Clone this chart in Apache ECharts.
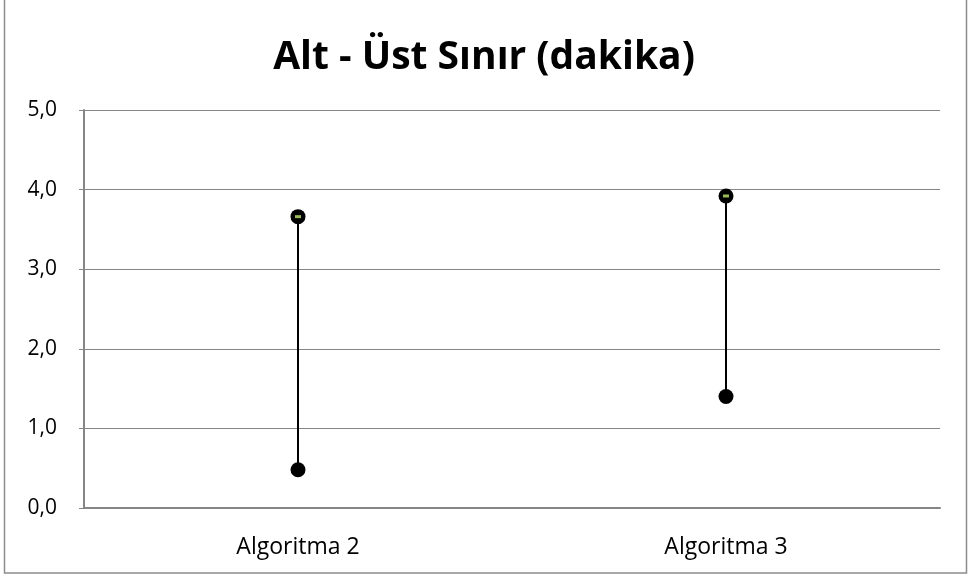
<!DOCTYPE html>
<html><head><meta charset="utf-8">
<script src="https://cdn.jsdelivr.net/npm/echarts@6/dist/echarts.min.js"></script>
<style>html,body{margin:0;padding:0;background:#fff}#c{width:968px;height:579px}</style>
</head><body><div id="c"></div>
<script>
const titleText = 'Alt - Üst Sınır (dakika)';
const categories = ['Algoritma 2', 'Algoritma 3'];
const highValues = [3.66, 3.92];
const lowValues = [0.48, 1.40];
const yTicks = [0, 1, 2, 3, 4, 5];

const chart = echarts.init(document.getElementById('c'), null, {renderer: 'canvas'});
const fontFam = '"Open Sans", "Noto Sans", sans-serif';
chart.setOption({
  animation: false,
  backgroundColor: '#fff',
  title: {
    text: titleText, left: 'center', top: 33,
    textStyle: {fontFamily: fontFam, fontWeight: 'bold', fontSize: 39, color: '#000'}
  },
  graphic: [{
    type: 'rect', shape: {x: 4.5, y: -2, width: 962, height: 575},
    style: {fill: 'none', stroke: '#8c8c8c', lineWidth: 1.5}, silent: true
  }],
  grid: {left: 84, right: 28, top: 110, bottom: 71, containLabel: false},
  xAxis: {
    type: 'category', data: categories, boundaryGap: true,
    axisLine: {lineStyle: {color: '#868686', width: 2}},
    axisTick: {show: false},
    axisLabel: {fontFamily: fontFam, fontSize: 23, color: '#000', margin: 28}
  },
  yAxis: {
    type: 'value', min: yTicks[0], max: yTicks[yTicks.length - 1], interval: 1,
    axisLine: {show: true, lineStyle: {color: '#868686', width: 2}},
    axisTick: {show: true, length: 5, lineStyle: {color: '#868686'}},
    splitLine: {lineStyle: {color: '#868686', width: 1}},
    axisLabel: {fontFamily: fontFam, fontSize: 21, color: '#000', margin: 27,
      formatter: v => v.toFixed(1).replace('.', ',')}
  },
  series: [
    {
      type: 'custom',
      data: categories.map((c, i) => [i, lowValues[i], highValues[i]]),
      renderItem: (params, api) => {
        const p1 = api.coord([api.value(0), api.value(1)]);
        const p2 = api.coord([api.value(0), api.value(2)]);
        return {type: 'line', shape: {x1: p1[0], y1: p1[1], x2: p2[0], y2: p2[1]},
          style: {stroke: '#000', lineWidth: 2}};
      },
      z: 2
    },
    {type: 'scatter', data: highValues, symbol: 'circle', symbolSize: 15,
      itemStyle: {color: '#000', opacity: 1}, z: 3},
    {type: 'scatter', data: lowValues, symbol: 'circle', symbolSize: 15,
      itemStyle: {color: '#000', opacity: 1}, z: 3},
    {type: 'scatter', data: highValues, symbol: 'rect', symbolSize: [6, 3],
      itemStyle: {color: '#9BBB59', opacity: 1}, z: 4}
  ]
});
</script></body></html>
